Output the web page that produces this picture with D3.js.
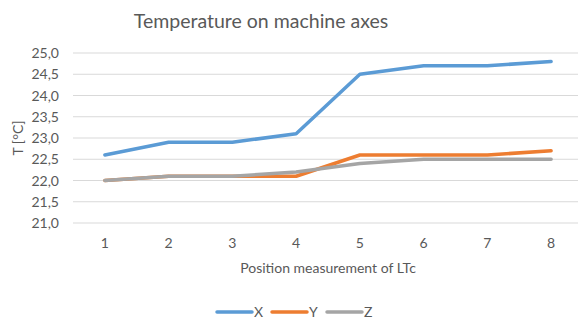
<!DOCTYPE html>
<html>
<head>
<meta charset="utf-8">
<script src="https://cdn.jsdelivr.net/npm/d3@7"></script>
<style>
  body { margin: 0; background: #fff; }
  svg { display: block; font-family: Lato, "Open Sans", sans-serif; }
</style>
</head>
<body>
<script>
var positions = [1, 2, 3, 4, 5, 6, 7, 8];
var seriesX = [22.6, 22.9, 22.9, 23.1, 24.5, 24.7, 24.7, 24.8];
var seriesY = [22.0, 22.1, 22.1, 22.1, 22.6, 22.6, 22.6, 22.7];
var seriesZ = [22.0, 22.1, 22.1, 22.2, 22.4, 22.5, 22.5, 22.5];
var yTicks = [21.0, 21.5, 22.0, 22.5, 23.0, 23.5, 24.0, 24.5, 25.0];

var series = [
    {name: "X", values: seriesX, color: "#5B9BD5"},
    {name: "Y", values: seriesY, color: "#ED7D31"},
    {name: "Z", values: seriesZ, color: "#A5A5A5"}
];

var width = 578,
    height = 320,
    plotLeft = 73,
    plotRight = 583,
    plotTop = 53,
    plotBottom = 223;

var svg = d3.select("body").append("svg")
    .attr("width", width)
    .attr("height", height);

var x = d3.scaleBand()
    .domain(positions)
    .range([plotLeft, plotRight]);

var y = d3.scaleLinear()
    .domain([21, 25])
    .range([plotBottom, plotTop]);

var textColor = "#595959";

// gridlines
svg.append("g")
    .selectAll("line")
    .data(yTicks)
    .enter().append("line")
    .attr("x1", plotLeft)
    .attr("x2", plotRight)
    .attr("y1", function(d) { return y(d); })
    .attr("y2", function(d) { return y(d); })
    .attr("stroke", "#d9d9d9")
    .attr("stroke-width", 1.2);

// y tick labels
svg.append("g")
    .selectAll("text")
    .data(yTicks)
    .enter().append("text")
    .attr("x", 59)
    .attr("y", function(d) { return y(d) + 5; })
    .attr("text-anchor", "end")
    .attr("font-size", 14)
    .attr("fill", textColor)
    .text(function(d) { return d3.format(".1f")(d).replace(".", ","); });

// x tick labels
svg.append("g")
    .selectAll("text")
    .data(positions)
    .enter().append("text")
    .attr("x", function(d) { return x(d) + x.bandwidth() / 2; })
    .attr("y", 248)
    .attr("text-anchor", "middle")
    .attr("font-size", 14)
    .attr("fill", textColor)
    .text(function(d) { return d; });

var line = d3.line()
    .x(function(d, i) { return x(positions[i]) + x.bandwidth() / 2; })
    .y(function(d) { return y(d); });

svg.append("g")
    .selectAll("path")
    .data(series)
    .enter().append("path")
    .attr("d", function(d) { return line(d.values); })
    .attr("fill", "none")
    .attr("stroke", function(d) { return d.color; })
    .attr("stroke-width", 3.5)
    .attr("stroke-linejoin", "round")
    .attr("stroke-linecap", "round");

// title
svg.append("text")
    .attr("x", 261)
    .attr("y", 28)
    .attr("text-anchor", "middle")
    .attr("font-size", 19.5)
    .attr("fill", textColor)
    .text("Temperature on machine axes");

// axis titles
svg.append("text")
    .attr("transform", "translate(23,138) rotate(-90)")
    .attr("text-anchor", "middle")
    .attr("font-size", 14)
    .attr("fill", textColor)
    .text("T [°C]");

svg.append("text")
    .attr("x", 328)
    .attr("y", 273)
    .attr("text-anchor", "middle")
    .attr("font-size", 14)
    .attr("fill", textColor)
    .text("Position measurement of LTc");

// legend
var legend = svg.append("g")
    .selectAll("g")
    .data(series)
    .enter().append("g")
    .attr("transform", function(d, i) { return "translate(" + (217 + i * 55) + ",312)"; });

legend.append("line")
    .attr("x1", 0)
    .attr("x2", 35)
    .attr("stroke", function(d) { return d.color; })
    .attr("stroke-width", 3.5)
    .attr("stroke-linecap", "round");

legend.append("text")
    .attr("x", 37)
    .attr("y", 5)
    .attr("font-size", 14)
    .attr("fill", textColor)
    .text(function(d) { return d.name; });
</script>
</body>
</html>
